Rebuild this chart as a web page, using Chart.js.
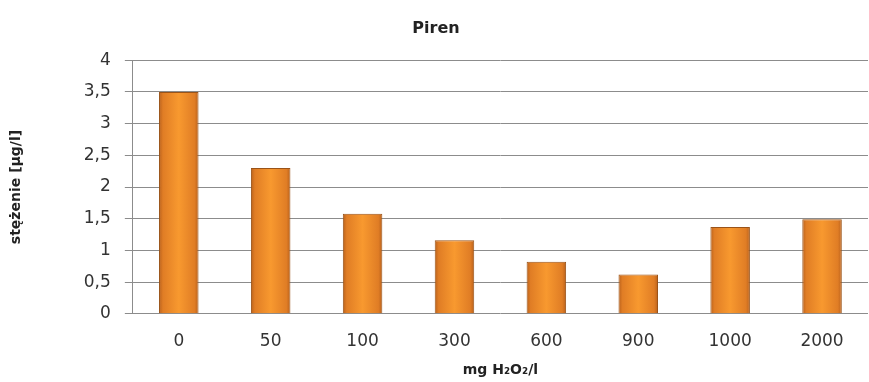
<!DOCTYPE html>
<html>
<head>
<meta charset="utf-8">
<script src="https://cdn.jsdelivr.net/npm/chart.js@4"></script>
<style>
    html, body { margin: 0; padding: 0; background: #fff; }
    #wrap { width: 869px; height: 382px; }
</style>
</head>
<body>
<div id="wrap"><canvas id="pirenChart" width="869" height="382"></canvas></div>
<script>
const categories = ['0', '50', '100', '300', '600', '900', '1000', '2000'];
const pirenValues = [3.5, 2.3, 1.58, 1.16, 0.82, 0.62, 1.37, 1.49];
const yTicks = [0, 0.5, 1, 1.5, 2, 2.5, 3, 3.5, 4];
const barShare = 0.43;

function barGradient(context) {
    const chart = context.chart;
    const xScale = chart.scales.x;
    if (!chart.chartArea || !xScale || context.dataIndex === undefined) return '#F39130';
    const cx = xScale.getPixelForValue(context.dataIndex);
    const half = (xScale.width / categories.length) * barShare / 2;
    if (!isFinite(cx) || !isFinite(half) || half <= 0) return '#F39130';
    const g = chart.ctx.createLinearGradient(cx - half, 0, cx + half, 0);
    g.addColorStop(0, '#B9611C');
    g.addColorStop(0.1, '#E07D25');
    g.addColorStop(0.5, '#F8992F');
    g.addColorStop(0.9, '#E07D25');
    g.addColorStop(1, '#B9611C');
    return g;
}

let ctx = document.getElementById('pirenChart').getContext('2d');

new Chart(ctx, {
    type: 'bar',
    data: {
        labels: categories,
        datasets: [{
            label: 'Piren',
            data: pirenValues,
            backgroundColor: barGradient,
            borderColor: '#9A5318',
            borderWidth: 1,
            categoryPercentage: 1,
            barPercentage: barShare
        }]
    },
    options: {
        responsive: false,
        animation: false,
        layout: {
            padding: { left: 4, right: 1, top: 0, bottom: 3 }
        },
        scales: {
            x: {
                grid: { display: false },
                border: { display: false },
                ticks: {
                    color: '#333',
                    font: { family: 'DejaVu Sans', size: 17 },
                    padding: 10
                },
                title: {
                    display: true,
                    text: 'mg H₂O₂/l',
                    color: '#222',
                    font: { family: 'DejaVu Sans', size: 14, weight: 'bold' },
                    padding: { top: 0, bottom: 0 }
                }
            },
            y: {
                min: 0,
                max: 4,
                afterBuildTicks: function (axis) {
                    axis.ticks = yTicks.map(v => ({ value: v }));
                },
                grid: {
                    color: '#8C8C8C',
                    tickLength: 8,
                    lineWidth: 1
                },
                border: { display: true, color: '#8C8C8C' },
                ticks: {
                    color: '#333',
                    font: { family: 'DejaVu Sans', size: 17 },
                    padding: 14,
                    callback: function (value) {
                        return String(value).replace('.', ',');
                    }
                },
                title: {
                    display: true,
                    text: 'stężenie [µg/l]',
                    color: '#222',
                    font: { family: 'DejaVu Sans', size: 14, weight: 'bold' },
                    padding: { top: 4, bottom: 45 }
                }
            }
        },
        plugins: {
            legend: { display: false },
            tooltip: { enabled: false },
            title: {
                display: true,
                text: 'Piren',
                color: '#222',
                font: { family: 'DejaVu Sans', size: 16, weight: 'bold' },
                padding: { top: 19, bottom: 22 }
            }
        }
    }
});
</script>
</body>
</html>
